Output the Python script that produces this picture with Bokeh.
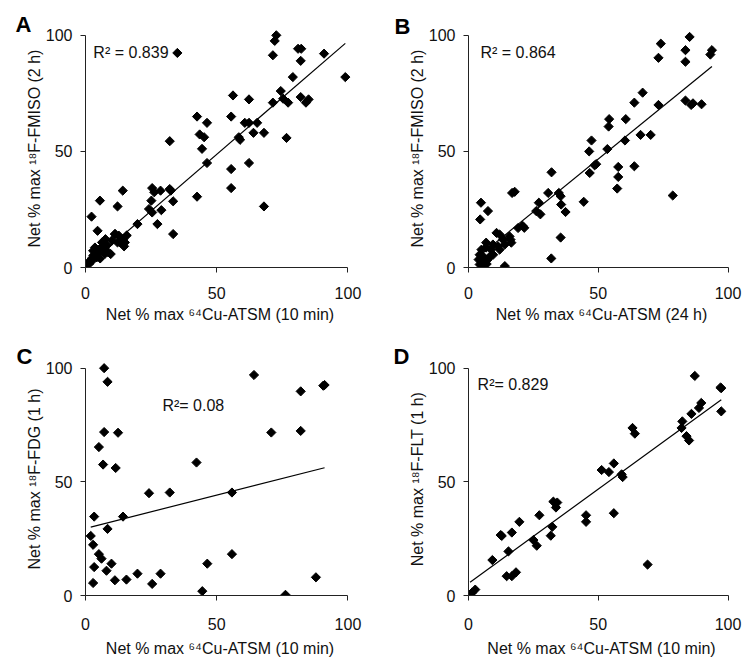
import math
from bokeh.plotting import figure
from bokeh.layouts import gridplot
from bokeh.models import Range1d, FixedTicker, Label
from bokeh.embed import file_html
from bokeh.resources import INLINE

# ---------------- data ----------------
a_x = [72.7, 72.1, 71.4, 35.0, 81.0, 82.2, 82.0, 90.9, 99.0, 79.0, 74.4, 56.2, 62.3, 71.4, 75.3, 77.2, 82.0, 84.0, 85.0,
       42.5, 55.5, 46.3, 60.7, 62.3, 65.4, 64.0, 68.0, 43.5, 45.2, 58.4, 58.9, 76.6, 32.1, 44.4, 46.3, 55.5, 62.3, 55.5, 68.0, 42.5,
       14.2, 25.4, 26.2, 28.6, 32.1, 32.5, 33.4, 25.1, 24.2, 25.4, 28.9, 27.4, 19.8, 33.4, 5.5, 12.2, 2.3, 4.6,
       11.2, 12.7, 14.3, 12.2, 14.7, 7.6, 6.3, 3.6, 9.6, 15.7, 10.0, 8.1, 8.7, 6.8, 7.5, 5.6, 4.9, 3.7, 3.0, 2.4, 1.1, 0.3,
       4.3, 5.6, 1.5, 2.6, 13.2, 15.0, 11.3, 2.9]
a_y = [100.0, 97.6, 91.4, 92.4, 94.2, 94.2, 89.0, 92.1, 82.0, 82.0, 76.0, 74.1, 72.4, 71.0, 72.7, 71.0, 73.4, 71.0, 72.4,
       65.0, 65.0, 62.3, 62.3, 62.3, 62.3, 58.0, 58.0, 57.3, 56.1, 56.1, 55.0, 55.8, 54.4, 51.1, 45.0, 42.4, 45.0, 34.2, 26.3, 30.5,
       33.1, 34.2, 32.4, 33.1, 33.8, 33.1, 28.5, 28.8, 25.2, 23.7, 24.7, 18.7, 18.7, 14.4, 28.8, 26.3, 21.9, 15.8,
       14.4, 13.7, 12.2, 10.8, 9.1, 12.2, 10.8, 8.6, 5.8, 13.8, 11.6, 9.5, 6.5, 8.2, 6.0, 8.2, 6.0, 7.3, 5.2, 3.9, 2.2, 0.9,
       4.4, 3.9, 1.7, 3.0, 10.8, 10.8, 14.4, 7.2]
a_fit = (0.975, 0.0)
a_r2 = "R² = 0.839"

b_x = [85.2, 74.1, 73.2, 83.6, 83.6, 93.8, 93.2, 67.1, 63.9, 73.2, 83.6, 85.8, 86.5, 89.8, 54.2, 54.0, 60.6, 66.3, 70.2, 60.3,
       47.4, 46.5, 53.5, 48.6, 49.2, 57.7, 63.9, 57.7, 57.3, 46.7, 32.0, 78.7,
       16.8, 17.8, 30.7, 34.8, 35.5, 27.1, 35.7, 37.4, 44.4, 26.1, 27.7, 20.9, 21.5, 4.8, 7.5, 4.5, 35.5, 31.9,
       19.1, 12.0, 10.8, 15.8, 16.2, 16.5, 13.3, 14.0, 11.4, 12.0, 9.4, 8.7, 6.8, 6.8, 5.0, 4.3, 5.6, 3.9, 5.2, 6.3, 7.4,
       4.3, 5.6, 14.0, 9.5, 8.0, 7.0]
b_y = [99.3, 96.4, 90.3, 93.6, 88.6, 93.6, 91.7, 75.3, 71.0, 70.0, 71.9, 70.0, 70.7, 70.3, 63.9, 60.7, 63.9, 57.1, 57.1, 54.7,
       54.7, 50.0, 51.0, 44.0, 44.5, 43.3, 43.6, 39.0, 34.0, 40.7, 41.0, 31.0,
       32.1, 32.6, 32.1, 32.1, 30.7, 27.9, 27.1, 23.9, 28.3, 24.3, 22.9, 17.9, 17.1, 27.9, 24.3, 20.7, 12.9, 3.9,
       17.0, 14.2, 14.9, 13.4, 12.0, 10.7, 12.0, 9.9, 9.1, 7.7, 9.9, 7.7, 10.7, 8.6, 7.7, 5.5, 4.8, 3.4, 2.7, 2.7, 3.4,
       1.3, 0.6, 0.6, 5.5, 4.5, 1.5]
b_fit = (0.91, 1.2)
b_r2 = "R² = 0.864"

c_x = [7.1, 8.4, 64.2, 91.1, 90.6, 82.0, 82.0, 70.8, 7.1, 12.4, 5.1, 6.7, 11.5, 42.3, 24.2, 32.1, 55.8, 3.3, 14.3, 8.4,
       2.0, 2.9, 5.1, 6.1, 9.9, 3.3, 8.0, 11.2, 15.6, 19.8, 2.9, 25.4, 28.6, 46.4, 55.8, 44.5, 76.2, 87.8]
c_y = [100.0, 94.0, 97.0, 92.6, 92.3, 89.8, 72.4, 71.7, 71.9, 71.6, 65.3, 57.6, 56.1, 58.5, 45.0, 45.3, 45.3, 34.7, 34.7, 29.3,
       26.2, 22.3, 18.2, 16.2, 14.0, 12.5, 10.9, 6.7, 7.0, 9.6, 5.5, 5.1, 9.6, 14.0, 18.2, 1.9, 0.3, 8.0]
c_fit = (0.293, 29.5)
c_r2 = "R²= 0.08"

d_x = [87.2, 97.4, 97.1, 97.4, 89.7, 88.8, 85.9, 82.4, 82.1, 84.0, 85.0, 63.2, 64.1, 51.3, 54.1, 56.0, 59.0, 59.4, 56.0, 69.0,
       45.3, 45.3, 32.7, 34.2, 33.7, 27.3, 19.6, 16.7, 12.4, 15.4, 25.0, 26.3, 31.7, 32.3, 9.2, 14.7, 16.7, 18.3, 2.6, 1.3, 0.6, 12.8]
d_y = [96.6, 91.2, 91.5, 81.0, 84.7, 82.5, 79.9, 76.6, 73.7, 70.1, 68.2, 73.7, 71.2, 55.2, 54.3, 58.1, 53.3, 52.1, 36.2, 13.6,
       35.3, 32.4, 41.3, 40.9, 38.7, 35.3, 32.4, 27.7, 26.6, 19.4, 24.4, 21.9, 26.3, 30.2, 15.6, 8.5, 8.5, 10.2, 2.6, 1.2, 0.3, 26.2]
d_fit = (0.83, 5.3)
d_r2 = "R²= 0.829"

x_label_10 = "Net % max ⁶⁴Cu-ATSM (10 min)"
x_label_24 = "Net % max ⁶⁴Cu-ATSM (24 h)"
y_label_fmiso = "Net % max ¹⁸F-FMISO (2 h)"
y_label_fdg = "Net % max ¹⁸F-FDG (1 h)"
y_label_flt = "Net % max ¹⁸F-FLT (1 h)"
ticks = [0, 50, 100]

FONT = "Liberation Sans"


def make_panel(xs, ys, fit, r2_text, r2_pos, letter, letter_px, xlabel, ylabel, fig_size, axis_px,
               xl_off=(14, 4), yl_off=(8, 0)):
    fw, fh = fig_size
    px0, px100, py0, py100 = axis_px
    sx = (px100 - px0) / 100.0
    sy = (py0 - py100) / 100.0
    lo, hi = 0.0, 102.5
    frame_left = px0 + lo * sx
    frame_right = px0 + hi * sx
    frame_top = py0 - hi * sy
    frame_bottom = py0 - lo * sy
    bl = int(round(frame_left))
    br = int(round(fw - frame_right))
    bt = int(round(frame_top))
    bb = int(round(fh - frame_bottom))
    p = figure(width=fw, height=fh, x_range=Range1d(lo, hi), y_range=Range1d(lo, hi),
               output_backend="svg", toolbar_location=None,
               min_border_left=bl, min_border_right=br, min_border_top=bt, min_border_bottom=bb)
    p.outline_line_color = None
    p.grid.visible = False
    p.background_fill_color = "white"
    p.border_fill_color = "white"

    # panel letter as the figure title, pushed to the left of the frame
    p.title.text = letter
    p.title.align = "left"
    p.title.offset = letter_px[0] - frame_left
    p.title.standoff = int(round(frame_top - 4.6 - letter_px[1])) - 7
    p.title.text_font = FONT
    p.title.text_font_size = "22px"
    p.title.text_font_style = "bold"
    p.title.text_color = "black"

    for ax in (p.xaxis[0], p.yaxis[0]):
        ax.bounds = (0, 100)
        ax.ticker = FixedTicker(ticks=ticks)
        ax.minor_tick_line_color = None
        ax.major_tick_in = 0
        ax.major_tick_out = 5
        ax.axis_line_color = "#222222"
        ax.major_tick_line_color = "#222222"
        ax.major_label_text_font = FONT
        ax.major_label_text_font_size = "16px"
        ax.major_label_text_color = "#111111"
        ax.axis_label_text_font = FONT
        ax.axis_label_text_font_size = "16px"
        ax.axis_label_text_font_style = "normal"
        ax.axis_label_text_color = "#111111"
    p.xaxis[0].axis_label = xlabel
    p.yaxis[0].axis_label = ylabel
    p.xaxis[0].major_label_standoff = xl_off[0]
    p.xaxis[0].axis_label_standoff = xl_off[1]
    p.yaxis[0].major_label_standoff = yl_off[0]
    p.yaxis[0].axis_label_standoff = yl_off[1]

    # regression line across data range
    slope, icpt = fit
    x0, x1 = min(xs), max(xs)
    p.line([x0, x1], [slope * x0 + icpt, slope * x1 + icpt], line_color="black", line_width=1.2)

    p.scatter(xs, ys, marker="square", angle=math.pi / 4, size=6.5,
              fill_color="black", line_color="black")

    p.add_layout(Label(x=r2_pos[0], y=r2_pos[1], text=r2_text, text_font=FONT,
                       text_font_size="16px", text_color="#111111", text_baseline="alphabetic"))
    return p


# figure sizes and target pixel positions inside each canvas
pA = make_panel(a_x, a_y, a_fit, a_r2, (3.0, 92.7), "A", (14, 33), x_label_10, y_label_fmiso,
                (383, 338), (84, 347, 267, 35))
pB = make_panel(b_x, b_y, b_fit, b_r2, (4.6, 92.8), "B", (10, 36), x_label_24, y_label_fmiso,
                (359, 338), (84, 344, 268, 35))
pC = make_panel(c_x, c_y, c_fit, c_r2, (29.3, 83.4), "C", (16, 25), x_label_10, y_label_fdg,
                (383, 325), (85, 347, 257, 29), xl_off=(17, 7))
pD = make_panel(d_x, d_y, d_fit, d_r2, (3.5, 93.0), "D", (10, 26), x_label_10, y_label_flt,
                (359, 325), (85, 345, 258, 30), xl_off=(17, 7))

grid = gridplot([[pA, pB], [pC, pD]], toolbar_location=None)

open("out.html", "w").write(file_html(grid, INLINE))
